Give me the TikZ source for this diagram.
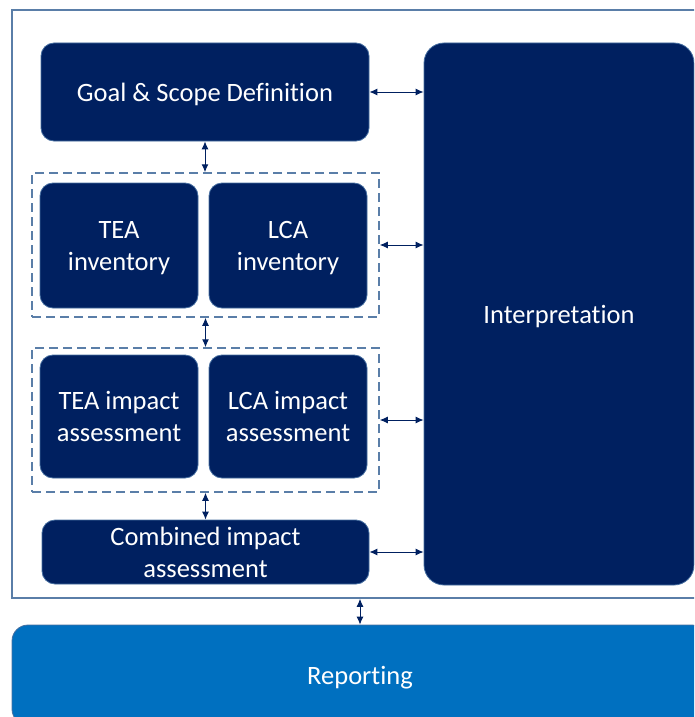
\documentclass[tikz,border=0pt]{standalone}
\usepackage{fontspec}
\setmainfont{Carlito}[Ligatures=NoCommon]
\usepackage{xcolor}
\usetikzlibrary{positioning, arrows.meta}
\definecolor{navy}{RGB}{0,32,96}
\definecolor{repblue}{RGB}{0,112,192}
\definecolor{framegray}{RGB}{90,126,168}
\definecolor{edgeblue}{RGB}{70,110,160}
\tikzset{
    block/.style={draw=edgeblue, line width=0.8pt, fill=navy, rounded corners=13pt, text=white, align=center, inner sep=0pt, text depth=0pt, font=\fontsize{26.5}{32}\selectfont},
    group/.style={draw=framegray, line width=1.5pt, dash pattern=on 9pt off 5pt, inner sep=0pt},
    link/.style={{Latex[length=8pt,width=7pt]}-{Latex[length=8pt,width=7pt]}, line width=1pt, draw=navy}
}

\begin{document}
\begin{tikzpicture}[x=1pt, y=-1pt]
\useasboundingbox (0,0) rectangle (694,717);
\clip (0,0) rectangle (694,717);

% Frame and groups
\node[draw=framegray, line width=1.5pt, minimum width=696pt, minimum height=588pt, inner sep=0pt] (frame) at (360,304) {};
\node[group, minimum width=347pt, minimum height=144pt] (inv) at (205.5,245) {};
\node[group, minimum width=347pt, minimum height=144pt] (imp) at (205.5,420) {};

% Nodes
\node[block, minimum width=328pt, minimum height=98pt] (goal) at (205,92) {Goal \& Scope Definition};
\node[block, minimum width=270pt, minimum height=542pt, rounded corners=20pt] (interp) at (559,314) {Interpretation};
\node[block, minimum width=158pt, minimum height=125pt] (teainv) at (119,245.5) {TEA\\inventory};
\node[block, minimum width=158pt, minimum height=125pt] (lcainv) at (288,245.5) {LCA\\inventory};
\node[block, minimum width=158pt, minimum height=123pt] (teaimp) at (119,416.5) {TEA impact\\assessment};
\node[block, minimum width=158pt, minimum height=123pt] (lcaimp) at (288,416.5) {LCA impact\\assessment};
\node[block, minimum width=327pt, minimum height=64pt] (comb) at (205.5,552) {Combined impact\\assessment};
\node[block, fill=repblue, minimum width=696pt, minimum height=100pt, rounded corners=16pt] (report) at (360,675) {Reporting};

% Links
\draw[link] (goal.east) -- (goal.east -| interp.west);
\draw[link] (inv.east) -- (inv.east -| interp.west);
\draw[link] (imp.east) -- (imp.east -| interp.west);
\draw[link] (comb.east) -- (comb.east -| interp.west);
\draw[link] (goal.south) -- (goal.south |- inv.north);
\draw[link] (inv.south) -- (inv.south |- imp.north);
\draw[link] (imp.south) -- (imp.south |- comb.north);
\draw[link] (frame.south) -- (frame.south |- report.north);

\end{tikzpicture}
\end{document}
